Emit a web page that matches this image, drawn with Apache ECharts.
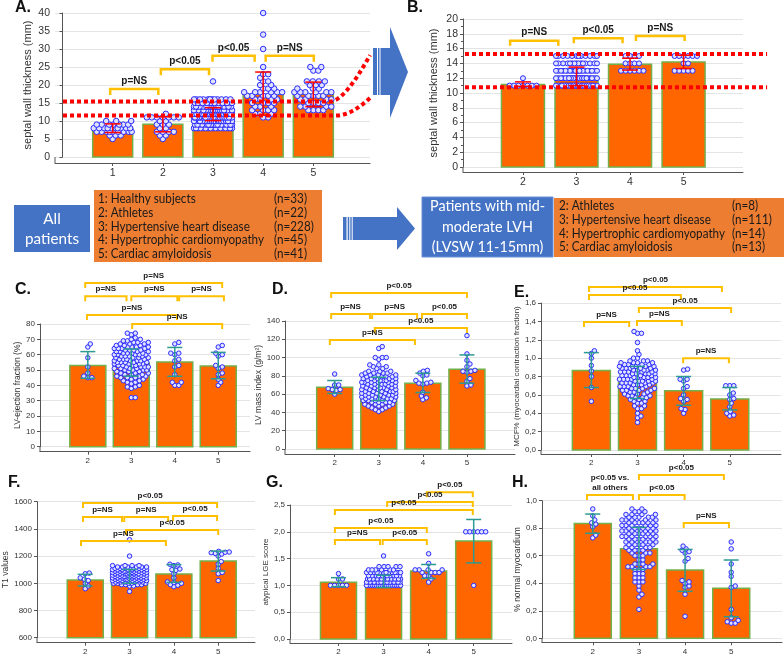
<!DOCTYPE html>
<html><head><meta charset="utf-8">
<script src="https://cdn.jsdelivr.net/npm/echarts@6/dist/echarts.min.js"></script>
<style>html,body{margin:0;padding:0;background:#fff}#c{width:784px;height:654px}</style>
</head><body><div id="c"></div>
<script>
// ================= DATA =================
const catsAll = [1, 2, 3, 4, 5];
const catsLVH = [2, 3, 4, 5];
const groupsAll = ['1: Healthy subjects', '2: Athletes', '3: Hypertensive heart disease', '4: Hypertrophic cardiomyopathy', '5: Cardiac amyloidosis'];
const nAll = ['(n=33)', '(n=22)', '(n=228)', '(n=45)', '(n=41)'];
const groupsLVH = ['2: Athletes', '3: Hypertensive heart disease', '4: Hypertrophic cardiomyopathy', '5: Cardiac amyloidosis'];
const nLVH = ['(n=8)', '(n=111)', '(n=14)', '(n=13)'];

// A: septal wall thickness, all patients
const A_mean = [8.0, 9.1, 11.9, 17.4, 17.4];
const A_lo = [6.8, 7.0, 10.1, 11.6, 14.0];
const A_hi = [9.2, 11.2, 13.7, 23.6, 20.8];
const A_pts = [
  [[10,3],[9,7],[8,10],[7,9],[6,3],[5,1]],
  [[12,1],[11,7],[10,2],[9,3],[8,2],[7,4],[6,2],[5,1]],
  [[21,1],[16,12],[15,18],[14,26],[13,30],[12,36],[11,36],[10,30],[9,22],[8,17]],
  [[40,1],[34,1],[30,1],[25,1],[23,2],[22,1],[21,2],[20,2],[19,3],[18,6],[17,5],[16,4],[15,4],[14,3],[13,4],[12,3],[11,2]],
  [[25,2],[24,2],[21,4],[20,3],[19,3],[18,6],[17,5],[16,4],[15,4],[14,4],[13,4]]
];
const A_brk = [[0.95,1.91,18.9,'p=NS'],[1.96,2.92,24.4,'p<0.05'],[2.99,3.83,28.1,'p<0.05'],[4.05,5.01,28.1,'p=NS']];
const A_ref = [15.4, 11.5];

// B: septal wall thickness, mid-moderate LVH
const B_mean = [11.15, 12.23, 13.9, 14.2];
const B_lo = [10.9, 11.0, 13.1, 13.3];
const B_hi = [11.5, 13.5, 14.7, 15.1];
const B_pts = [
  [[12,1],[11,7]],
  [[15,12],[14,15],[13,22],[12,28],[11,34]],
  [[15,4],[14,4],[13,6]],
  [[15,6],[14,2],[13,5]]
];
const B_brk = [[1.76,2.66,17.07,'p=NS'],[2.95,3.86,17.4,'p<0.05'],[4.11,5.02,17.7,'p=NS']];
const B_ref = [15.27, 10.77];

// C: LV ejection fraction
const C_mean = [53.0, 54.6, 55.2, 52.6];
const C_lo = [44.6, 46.0, 45.9, 44.3];
const C_hi = [62.0, 63.7, 64.7, 61.5];
const C_pts = [
  [[67,1],[65,1],[58,1],[52,1],[48,1],[46,1],[45,2]],
  [[74,2],[73,1],[71,1],[70,2],[69,2],[68,3],[67,3],[66,3],[65,4],[64,4],[63,4],[62,4],[61,4],[60,5],[59,4],[58,4],[57,4],[56,4],[55,5],[54,4],[53,4],[52,4],[51,4],[50,4],[49,3],[48,3],[47,3],[46,3],[45,3],[44,2],[43,2],[42,2],[41,1],[40,1],[39,2],[38,1],[32,2]],
  [[68,1],[67,1],[61,2],[60,1],[57,1],[56,1],[53,1],[52,1],[47,1],[42,2],[40,2]],
  [[66,1],[65,1],[61,1],[60,1],[59,1],[53,1],[52,1],[51,1],[48,1],[47,1],[44,1],[42,1],[40,1]]
];
const C_brk = [[1.94,5.09,106.7,'p=NS'],[1.94,2.89,98.1,'p=NS'],[3.0,4.06,98.1,'p=NS'],[4.10,5.13,98.1,'p=NS'],[1.98,4.05,85.9,'p=NS'],[3.02,5.09,80.0,'p=NS']];

// D: LV mass index
const D_mean = [67.6, 65.5, 72.0, 87.3];
const D_lo = [60.7, 53.0, 61.8, 72.0];
const D_hi = [74.9, 78.5, 82.9, 102.9];
const D_pts = [
  [[82,1],[70,2],[66,1],[65,2],[64,1],[60,1]],
  [[112,1],[110,1],[100,3],[98,1],[92,2],[90,2],[88,2],[85,3],[83,4],[81,4],[79,5],[77,5],[75,6],[73,6],[71,5],[69,5],[67,5],[65,5],[63,5],[61,5],[59,5],[57,5],[55,5],[53,5],[51,4],[49,4],[47,3],[45,2],[43,2],[41,1]],
  [[86,1],[85,1],[83,1],[81,1],[80,1],[75,1],[73,1],[72,2],[71,1],[62,1],[58,1],[56,1],[54,1]],
  [[124,1],[104,1],[97,1],[93,1],[90,1],[86,1],[85,2],[84,1],[77,1],[74,1],[70,1],[69,1]]
];
const D_brk = [[1.92,5.0,170.6,'p<0.05'],[1.92,2.80,147.7,'p=NS'],[2.85,3.87,147.7,'p=NS'],[3.98,5.0,147.7,'p<0.05'],[2.91,5.0,132.3,'p<0.05'],[1.89,3.82,119.2,'p=NS']];

// E: MCF%
const E_mean = [0.866, 0.735, 0.644, 0.556];
const E_lo = [0.68, 0.56, 0.487, 0.436];
const E_hi = [1.06, 0.91, 0.80, 0.68];
const E_pts = [
  [[1.08,1],[1.05,1],[1.0,1],[0.92,1],[0.86,1],[0.80,1],[0.68,1],[0.53,1]],
  [[1.29,1],[1.27,2],[1.17,1],[1.08,1],[1.04,1],[1.0,2],[0.97,3],[0.95,4],[0.93,4],[0.91,5],[0.89,5],[0.87,5],[0.85,5],[0.83,5],[0.81,5],[0.79,5],[0.77,5],[0.75,5],[0.73,5],[0.71,4],[0.69,4],[0.67,4],[0.65,4],[0.63,3],[0.61,3],[0.59,3],[0.57,3],[0.55,2],[0.53,2],[0.51,2],[0.48,2],[0.45,2],[0.40,1],[0.37,1],[0.35,1],[0.30,1]],
  [[0.88,1],[0.87,1],[0.77,2],[0.75,1],[0.69,1],[0.67,1],[0.60,1],[0.56,1],[0.55,1],[0.53,1],[0.45,1],[0.44,1],[0.40,1]],
  [[0.70,3],[0.62,1],[0.60,1],[0.56,1],[0.55,1],[0.51,1],[0.47,1],[0.42,1],[0.40,1],[0.38,1],[0.37,1]]
];
const E_brk = [[1.95,4.83,1.774,'p<0.05'],[1.95,3.94,1.687,'p<0.05'],[3.03,5.03,1.546,'p<0.05'],[1.84,2.82,1.393,'p=NS'],[2.99,3.96,1.404,'p=NS'],[3.99,4.98,1.0,'p=NS']];

// F: T1 values
const F_mean = [1024, 1048, 1068, 1164];
const F_lo = [980, 1000, 1007, 1090];
const F_hi = [1066, 1102, 1137, 1237];
const F_pts = [
  [[1075,1],[1070,1],[1040,1],[1030,1],[1020,1],[1000,1],[980,1],[960,1]],
  [[1320,1],[1200,1],[1130,4],[1120,6],[1110,7],[1100,8],[1090,8],[1080,8],[1070,8],[1060,8],[1050,8],[1040,8],[1030,8],[1020,8],[1010,8],[1000,5],[990,4],[980,2],[940,1]],
  [[1140,1],[1135,1],[1130,1],[1105,1],[1100,1],[1095,1],[1070,1],[1040,1],[1010,1],[1005,1],[1000,1],[990,1],[985,1],[975,1]],
  [[1235,1],[1230,1],[1228,1],[1225,1],[1220,1],[1215,1],[1200,1],[1160,1],[1140,1],[1110,1],[1080,1],[1070,1],[1020,1]]
];
const F_brk = [[1.95,4.975,1590,'p<0.05'],[1.95,2.83,1487,'p=NS'],[2.88,3.87,1487,'p=NS'],[3.98,4.975,1495,'p<0.05'],[2.92,5.0,1392,'p<0.05'],[1.905,3.82,1311,'p=NS']];

// G: atypical LGE score
const G_mean = [1.057, 1.057, 1.27, 1.83];
const G_lo = [0.976, 0.96, 1.13, 1.42];
const G_hi = [1.144, 1.19, 1.39, 2.23];
const G_pts = [
  [[1.22,1],[1.12,2],[1.0,5]],
  [[1.55,1],[1.35,5],[1.29,6],[1.24,12],[1.18,12],[1.12,18],[1.06,22],[1.0,35]],
  [[1.59,1],[1.41,1],[1.29,4],[1.24,4],[1.18,2],[1.12,1],[1.06,1]],
  [[2.0,6],[1.0,1]]
];
const G_brk = [[3.96,4.98,2.74,'p<0.05'],[3.08,4.98,2.556,'p<0.05'],[1.92,4.98,2.407,'p<0.05'],[1.92,3.96,2.07,'p<0.05'],[1.92,2.92,1.847,'p=NS'],[2.98,3.96,1.847,'p<0.05']];

// H: % normal myocardium
const H_mean = [0.835, 0.651, 0.496, 0.363];
const H_lo = [0.763, 0.50, 0.341, 0.157];
const H_hi = [0.903, 0.806, 0.646, 0.569];
const H_pts = [
  [[0.94,1],[0.89,1],[0.86,1],[0.84,1],[0.83,1],[0.81,1],[0.75,1],[0.73,1]],
  [[0.94,2],[0.92,3],[0.90,4],[0.88,5],[0.86,5],[0.84,6],[0.82,6],[0.80,6],[0.78,6],[0.76,6],[0.74,6],[0.72,5],[0.70,5],[0.68,5],[0.66,4],[0.64,4],[0.62,3],[0.60,3],[0.57,2],[0.54,4],[0.52,4],[0.50,3],[0.47,3],[0.44,3],[0.41,3],[0.38,1],[0.35,1],[0.32,1],[0.30,1],[0.21,1]],
  [[0.67,1],[0.65,1],[0.64,1],[0.63,1],[0.62,1],[0.58,1],[0.56,1],[0.42,1],[0.41,1],[0.40,1],[0.38,1],[0.37,1],[0.32,1],[0.16,1]],
  [[0.70,1],[0.65,1],[0.54,1],[0.48,1],[0.45,1],[0.38,1],[0.37,1],[0.21,1],[0.15,1],[0.13,1],[0.12,1],[0.11,2]]
];
const H_brk = [[1.875,2.87,1.041,'p<0.05 vs.\nall others'],[3.0,4.84,1.187,'p<0.05'],[3.0,3.99,1.041,'p<0.05'],[3.97,4.95,0.838,'p=NS']];

// ================= LAYOUT / STYLE =================
const FF = 'Liberation Sans';
const RED = '#FF0000', TEAL = '#2B9A92';
const LAY = {
  A:{left:55,top:13,width:315,height:144,xmin:-0.15,xmax:6.13,ymin:0,ymax:40,yint:5,off:6,barW:40,yf:10.5,xf:10.5,nf:11,gap:22,name:'septal wall thickness (mm)',err:RED,cap:16,dot:5.5,bf:10,bw:2.5,tick:6,cats:catsAll,mean:A_mean,lo:A_lo,hi:A_hi,pts:A_pts,brk:A_brk},
  B:{left:463,top:19,width:280,height:148,xmin:0.88,xmax:6.11,ymin:0,ymax:20,yint:2,off:5,barW:43,yf:10.5,xf:10.5,nf:11,gap:24,name:'septal wall thickness (mm)',err:RED,cap:16,dot:5,bf:10,bw:2.5,tick:5,minor:true,cats:catsLVH,mean:B_mean,lo:B_lo,hi:B_hi,pts:B_pts,brk:B_brk},
  C:{left:40,top:324,width:210,height:122.7,xmin:0.90,xmax:5.73,ymin:0,ymax:80,yint:10,off:5,barW:36,yf:8,xf:8,nf:8.5,gap:15,name:'LV-ejection fraction (%)',err:TEAL,cap:15,dot:4.5,bf:8,bw:2,tick:5,cats:catsLVH,mean:C_mean,lo:C_lo,hi:C_hi,pts:C_pts,brk:C_brk},
  D:{left:285,top:321,width:230,height:128,xmin:0.873,xmax:6.09,ymin:0,ymax:140,yint:20,off:5,barW:36,yf:8,xf:8,nf:8.5,gap:18,name:'LV mass index (g/m²)',err:TEAL,cap:15,dot:4.5,bf:8,bw:2,tick:5,cats:catsLVH,mean:D_mean,lo:D_lo,hi:D_hi,pts:D_pts,brk:D_brk},
  E:{left:541,top:303,width:240,height:147,xmin:0.909,xmax:6.11,ymin:0,ymax:1.6,yint:0.2,off:4,barW:38,yf:8,xf:8,nf:8,gap:18,dec:true,name:'MCF% (myocardial contraction fraction)',err:TEAL,cap:15,dot:4.5,bf:8,bw:2,tick:5,cats:catsLVH,mean:E_mean,lo:E_lo,hi:E_hi,pts:E_pts,brk:E_brk},
  F:{left:37,top:501.7,width:218,height:136,xmin:0.912,xmax:5.83,ymin:600,ymax:1600,yint:200,off:5,barW:36,yf:8,xf:8,nf:8.5,gap:20,name:'T1 values',err:TEAL,cap:15,dot:4.5,bf:8,bw:2,tick:5,cats:catsLVH,mean:F_mean,lo:F_lo,hi:F_hi,pts:F_pts,brk:F_brk},
  G:{left:290,top:505,width:222,height:134,xmin:0.924,xmax:5.85,ymin:0,ymax:2.5,yint:0.5,off:4,barW:36,yf:8,xf:8,nf:8,gap:18,dec:true,name:'atypical LGE score',err:TEAL,cap:15,dot:4.5,bf:8,bw:2,tick:5,cats:catsLVH,mean:G_mean,lo:G_lo,hi:G_hi,pts:G_pts,brk:G_brk},
  H:{left:542,top:500.7,width:240,height:137.6,xmin:0.90,xmax:6.1,ymin:0,ymax:1.0,yint:0.2,off:4,barW:37,yf:8,xf:8,nf:8.5,gap:18,dec:true,name:'% normal myocardium',err:TEAL,cap:15,dot:4.5,bf:8,bw:2,tick:5,cats:catsLVH,mean:H_mean,lo:H_lo,hi:H_hi,pts:H_pts,brk:H_brk}
};
const REF = {
  A:[{y:A_ref[0],x0:0.01,x1:5.33,cx:5.62,x2:6.13,y2:28.3},{y:A_ref[1],x0:0.01,x1:5.45,cx:5.75,x2:6.13,y2:16.4}],
  B:[{y:B_ref[0],x0:0.917,x1:6.56},{y:B_ref[1],x0:0.917,x1:6.56}]
};

function swarm(pairs, pxpu, d, maxW) {
  const vals = [];
  pairs.forEach(([v, n]) => { for (let k = 0; k < n; k++) vals.push(v); });
  vals.sort((a, b) => a - b);
  const placed = [], out = [];
  const step = 0.5, K = Math.floor(maxW / step) * 2;
  for (const v of vals) {
    const y = v * pxpu;
    const near = placed.filter(p => Math.abs(p.y - y) < d);
    let best = 0, bestMd = -1;
    for (let k = 0; k <= K; k++) {
      const x = k === 0 ? 0 : (k % 2 ? 1 : -1) * Math.ceil(k / 2) * step;
      let md = Infinity;
      for (const p of near) { const dd = Math.hypot(p.x - x, p.y - y); if (dd < md) md = dd; }
      if (md >= d) { best = x; break; }
      if (md > bestMd + 0.01) { bestMd = md; best = x; }
    }
    placed.push({x: best, y: y});
    out.push({v: v, dx: best});
  }
  return out;
}

const grids = [], xAxes = [], yAxes = [], series = [];
Object.keys(LAY).forEach((k, gi) => {
  const L = LAY[k];
  grids.push({left: L.left, top: L.top, width: L.width, height: L.height, containLabel: false, outerBoundsMode: 'none'});
  xAxes.push({type: 'value', gridIndex: gi, min: L.xmin, max: L.xmax, offset: L.off,
    splitLine: {show: false},
    axisLine: {show: true, onZero: false, lineStyle: {color: '#555', width: 1}},
    axisTick: {show: true, customValues: L.cats, length: 3, lineStyle: {color: '#555'}},
    axisLabel: {customValues: L.cats, fontSize: L.xf, color: '#333', margin: 5, fontFamily: FF}});
  const ya = {type: 'value', gridIndex: gi, min: L.ymin, max: L.ymax, interval: L.yint,
    axisLine: {show: true, lineStyle: {color: '#555', width: 1}},
    axisTick: {show: true, length: 3, lineStyle: {color: '#555'}},
    axisLabel: {fontSize: L.yf, color: '#333', margin: 5, fontFamily: FF},
    splitLine: {show: true, lineStyle: {color: '#e4e4e4', width: 1}},
    name: L.name, nameLocation: 'middle', nameGap: L.gap,
    nameTextStyle: {fontSize: L.nf, color: '#333', fontFamily: FF}};
  if (L.dec) ya.axisLabel.formatter = v => v.toFixed(1).replace('.', ',');
  else ya.axisLabel.formatter = v => String(Math.round(v));
  if (L.minor) ya.minorTick = {show: true, splitNumber: 2, length: 2, lineStyle: {color: '#555'}};
  yAxes.push(ya);

  // y-axis line continued down to the offset x-axis
  series.push({type: 'custom', xAxisIndex: gi, yAxisIndex: gi, clip: false, z: 1, silent: true,
    data: [[L.xmin, L.ymin]],
    renderItem: (p, api) => {
      const o = api.coord([api.value(0), api.value(1)]);
      return {type: 'line', shape: {x1: o[0], y1: o[1], x2: o[0], y2: o[1] + L.off}, style: {stroke: '#555', lineWidth: 1}};
    }});
  series.push({type: 'custom', xAxisIndex: gi, yAxisIndex: gi, clip: false, z: 2, silent: true,
    data: L.cats.map((c, i) => [c, L.mean[i]]),
    renderItem: (p, api) => {
      const t = api.coord([api.value(0), api.value(1)]), b = api.coord([api.value(0), L.ymin]);
      return {type: 'rect', shape: {x: t[0] - L.barW / 2, y: t[1], width: L.barW, height: b[1] - t[1]},
        style: {fill: '#FF6600', stroke: '#72B04C', lineWidth: 1.5}};
    }});
  const pxpu = L.height / (L.ymax - L.ymin);
  const pts = [];
  L.pts.forEach((grp, i) => {
    swarm(grp, pxpu, L.dot * 0.85, L.barW / 2 - 1).forEach(q => pts.push({value: [L.cats[i], q.v], symbolOffset: [q.dx, 0]}));
  });
  series.push({type: 'scatter', xAxisIndex: gi, yAxisIndex: gi, data: pts, symbol: 'circle', symbolSize: L.dot, z: 3, silent: true,
    itemStyle: {color: '#dfe2ff', borderColor: '#2a2aff', borderWidth: 1, opacity: 1}});
  if (REF[k]) {
    const spec = REF[k];
    series.push({type: 'custom', xAxisIndex: gi, yAxisIndex: gi, clip: false, z: 4, silent: true,
      data: spec.map(r => [r.x0, r.y]),
      renderItem: (p, api) => {
        const r = spec[p.dataIndex];
        const p0 = api.coord([r.x0, r.y]), p1 = api.coord([r.x1, r.y]);
        const ptsL = [p0, p1];
        if (r.x2 !== undefined) {
          const c = api.coord([r.cx, r.y]), e = api.coord([r.x2, r.y2]);
          for (let t = 0.05; t <= 1.0001; t += 0.05) {
            const u = 1 - t;
            ptsL.push([u*u*p1[0] + 2*u*t*c[0] + t*t*e[0], u*u*p1[1] + 2*u*t*c[1] + t*t*e[1]]);
          }
        }
        return {type: 'polyline', shape: {points: ptsL}, style: {stroke: RED, lineWidth: 4, lineDash: [4, 3], fill: null}};
      }});
  }
  series.push({type: 'custom', xAxisIndex: gi, yAxisIndex: gi, clip: false, z: 5, silent: true,
    data: L.cats.map((c, i) => [c, L.lo[i], L.hi[i]]),
    renderItem: (p, api) => {
      const c = api.value(0);
      const a = api.coord([c, api.value(2)]), b = api.coord([c, api.value(1)]);
      const w = L.cap / 2, st = {stroke: L.err, lineWidth: 1.5};
      return {type: 'group', children: [
        {type: 'line', shape: {x1: a[0], y1: a[1], x2: b[0], y2: b[1]}, style: st},
        {type: 'line', shape: {x1: a[0] - w, y1: a[1], x2: a[0] + w, y2: a[1]}, style: st},
        {type: 'line', shape: {x1: b[0] - w, y1: b[1], x2: b[0] + w, y2: b[1]}, style: st}]};
    }});
  series.push({type: 'custom', xAxisIndex: gi, yAxisIndex: gi, clip: false, z: 6, silent: true,
    data: L.brk.map(b => [b[0], b[2]]),
    renderItem: (p, api) => {
      const b = L.brk[p.dataIndex];
      const p1 = api.coord([b[0], b[2]]), p2 = api.coord([b[1], b[2]]);
      return {type: 'group', children: [
        {type: 'polyline', shape: {points: [[p1[0], p1[1] + L.tick], [p1[0], p1[1]], [p2[0], p2[1]], [p2[0], p2[1] + L.tick]]},
          style: {stroke: '#FFC000', lineWidth: L.bw, fill: null}},
        {type: 'text', style: {text: b[3], x: (p1[0] + p2[0]) / 2, y: p1[1] - 2, textAlign: 'center', textVerticalAlign: 'bottom',
          font: 'bold ' + L.bf + 'px ' + FF, fill: '#1a1a1a', lineHeight: L.bf + 2}}]};
    }});
});

// ================= DECORATIONS =================
const BLUE = '#4472C4', ORANGE = '#ED7D31';
const BF = 'Lato';
const mctx = document.createElement('canvas').getContext('2d');
function fit(text, font, target) { mctx.font = font; const w = mctx.measureText(text).width; return w > 0 ? target / w : 1; }
const boxFont = '13px ' + BF, lvhFont = '15px ' + BF, allFont = '16px ' + BF;
const sBox = fit('4: Hypertrophic cardiomyopathy', boxFont, 166);
const sLvh = fit('Patients with mid-', lvhFont, 115);
const sAll = fit('patients', allFont, 54);

const gfx = [];
function txt(t, x, y, font, fill, sx, center) {
  gfx.push({type: 'text', x: x, y: y, scaleX: sx,
    style: {text: t, font: font, fill: fill, textAlign: center ? 'center' : 'left', align: center ? 'center' : 'left', textVerticalAlign: 'middle', verticalAlign: 'middle'}});
}
const letters = [['A.', 15, 8], ['B.', 407, 8], ['C.', 15, 290], ['D.', 272, 290], ['E.', 514, 293], ['F.', 8, 483], ['G.', 266, 483], ['H.', 512, 483]];
letters.forEach(([t, x, y]) => txt(t, x, y, 'bold 16px ' + FF, '#111', 1, false));
// arrow A -> B
gfx.push({type: 'rect', shape: {x: 373, y: 48, width: 4, height: 47}, style: {fill: BLUE}});
gfx.push({type: 'rect', shape: {x: 378, y: 48, width: 1.5, height: 47}, style: {fill: BLUE}});
gfx.push({type: 'rect', shape: {x: 380.5, y: 48, width: 10, height: 47}, style: {fill: BLUE}});
gfx.push({type: 'polygon', shape: {points: [[390, 27], [408, 72], [390, 118]]}, style: {fill: BLUE}});
// All patients box
gfx.push({type: 'rect', shape: {x: 14, y: 205, width: 76, height: 47}, style: {fill: BLUE}});
txt('All', 52, 219, allFont, '#fff', sAll, true);
txt('patients', 52, 239, allFont, '#fff', sAll, true);
// orange legend box 1
gfx.push({type: 'rect', shape: {x: 94, y: 190, width: 228, height: 72}, style: {fill: ORANGE}});
groupsAll.forEach((g, i) => {
  const y = 199 + i * 13.75;
  txt(g, 98, y, boxFont, '#1a1a1a', sBox, false);
  txt(nAll[i], 274, y, boxFont, '#1a1a1a', sBox, false);
});
// middle arrow
[[343, 3.5], [347.7, 1.6], [350.3, 1.4], [352.7, 44.5]].forEach(([x, w]) => gfx.push({type: 'rect', shape: {x: x, y: 217, width: w, height: 23}, style: {fill: BLUE}}));
gfx.push({type: 'polygon', shape: {points: [[397, 207], [415, 228.5], [397, 250]]}, style: {fill: BLUE}});
// LVH box
gfx.push({type: 'rect', shape: {x: 422, y: 197, width: 131, height: 60}, style: {fill: BLUE, stroke: '#6a8fd6', lineWidth: 1}});
[['Patients with mid-', 206], ['moderate LVH', 227], ['(LVSW 11-15mm)', 247]].forEach(([t, y]) => txt(t, 487.5, y, lvhFont, '#fff', sLvh, true));
// orange legend box 2
gfx.push({type: 'rect', shape: {x: 554, y: 198, width: 230, height: 59}, style: {fill: ORANGE}});
groupsLVH.forEach((g, i) => {
  const y = 206 + i * 13.7;
  txt(g, 559, y, boxFont, '#1a1a1a', sBox, false);
  txt(nLVH[i], 732, y, boxFont, '#1a1a1a', sBox, false);
});

const chart = echarts.init(document.getElementById('c'), null, {renderer: 'canvas'});
chart.setOption({
  animation: false,
  backgroundColor: '#fff',
  textStyle: {fontFamily: FF},
  grid: grids, xAxis: xAxes, yAxis: yAxes, series: series,
  graphic: gfx
});
</script></body></html>
